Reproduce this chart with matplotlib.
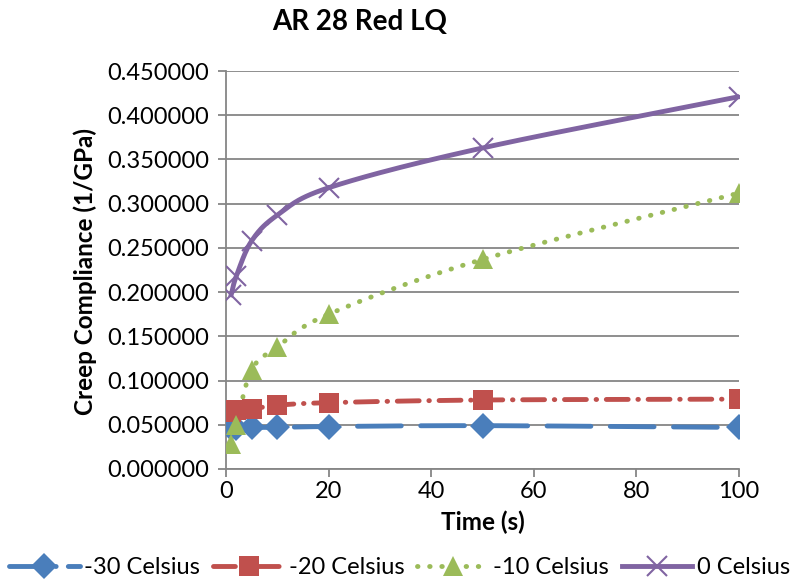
import numpy as np
import matplotlib
matplotlib.use('Agg')
import matplotlib.pyplot as plt
from matplotlib.ticker import FormatStrFormatter
from matplotlib.lines import Line2D

plt.rcParams['font.family'] = ['Lato', 'DejaVu Sans']

# datos
tiempo = [1, 2, 5, 10, 20, 50, 100]
menos30 = [0.046, 0.046, 0.047, 0.047, 0.048, 0.049, 0.047]
menos20 = [0.064, 0.067, 0.068, 0.072, 0.075, 0.078, 0.079]
menos10 = [0.028, 0.050, 0.112, 0.138, 0.175, 0.237, 0.312]
cero = [0.197, 0.218, 0.258, 0.287, 0.318, 0.363, 0.421]
etiquetas = ['-30 Celsius', '-20 Celsius', '-10 Celsius', '0 Celsius']


def suavizar(x, y, n=30):
    # spline Catmull-Rom, como la linea suavizada de Excel
    x = np.asarray(x, float)
    y = np.asarray(y, float)
    px = np.concatenate([[2 * x[0] - x[1]], x, [2 * x[-1] - x[-2]]])
    py = np.concatenate([[2 * y[0] - y[1]], y, [2 * y[-1] - y[-2]]])
    xs, ys = [], []
    t = np.linspace(0, 1, n)
    for i in range(1, len(px) - 2):
        for p, out in ((px, xs), (py, ys)):
            p0, p1, p2, p3 = p[i - 1], p[i], p[i + 1], p[i + 2]
            out.extend(0.5 * (2 * p1 + (-p0 + p2) * t + (2 * p0 - 5 * p1 + 4 * p2 - p3) * t ** 2
                              + (-p0 + 3 * p1 - 3 * p2 + p3) * t ** 3))
    return np.array(xs), np.array(ys)


fig = plt.figure(figsize=(7.99, 5.85), dpi=100)
ax = fig.add_axes([0.2829, 0.1983, 0.642, 0.6803])

# (valores, color, estilo en grafica, estilo en leyenda, marcador, tamaño)
series = [
    (menos30, '#4A7EBB', (0, (9, 4)), (0, (6, 3.5, 0.1, 2.5)), 'D', 13),
    (menos20, '#C0504D', (0, (4.5, 2, 0.1, 2)), (0, (4.5, 2.2, 0.1, 2.2)), 's', 14),
    (menos10, '#9BBB59', (0, (0.1, 2.4)), (0, (0.1, 2.4)), '^', 14),
    (cero, '#8064A2', '-', '-', 'x', 15),
]

handles = []
for (vals, col, ls, ls_ley, mk, ms), lab in zip(series, etiquetas):
    xs, ys = suavizar(tiempo, vals)
    ax.plot(xs, ys, color=col, lw=3.5, ls=ls, dash_capstyle='round', zorder=3)
    ax.plot(tiempo, vals, ls='none', marker=mk, ms=ms, color=col,
            mew=1.5 if mk == 'x' else 0, mec=col, zorder=4)
    h = Line2D([], [], color=col, lw=3.5, ls=ls_ley, marker=mk, ms=ms,
               mew=1.5 if mk == 'x' else 0, mec=col, dash_capstyle='round', label=lab)
    handles.append(h)

ax.set_xlim(0, 100)
ax.set_ylim(0, 0.45)
ax.set_xticks(np.arange(0, 101, 20))
ax.set_yticks(np.arange(0, 0.451, 0.05))
ax.yaxis.set_major_formatter(FormatStrFormatter('%.6f'))
ax.grid(axis='y', color='#868686', lw=1.3)
ax.set_axisbelow(True)
for s in ['top', 'right']:
    ax.spines[s].set_visible(False)
for s in ['left', 'bottom']:
    ax.spines[s].set_color('#868686')
    ax.spines[s].set_linewidth(1.3)
ax.tick_params(axis='both', length=6, width=1.3, color='#868686', labelsize=17)
ax.tick_params(axis='y', pad=6)
ax.tick_params(axis='x', pad=3)

fig.text(360 / 799, 1 - 22 / 585, 'AR 28 Red LQ', fontsize=20, fontweight='bold',
         ha='center', va='center')
ax.set_xlabel('Time (s)', fontsize=17.5, fontweight='bold', va='center')
ax.xaxis.set_label_coords(0.501, -0.135)
ax.set_ylabel('Creep Compliance (1/GPa)', fontsize=17.5, fontweight='bold', va='center')
ax.yaxis.set_label_coords(-0.275, 0.495)

fig.legend(handles=handles, loc='center', ncol=4, frameon=False, fontsize=17,
           bbox_to_anchor=(0.5, 1 - 568 / 585), handlelength=3.0, handletextpad=0.2,
           columnspacing=0.55, borderpad=0, borderaxespad=0)

fig.savefig('out.png', dpi=100)
